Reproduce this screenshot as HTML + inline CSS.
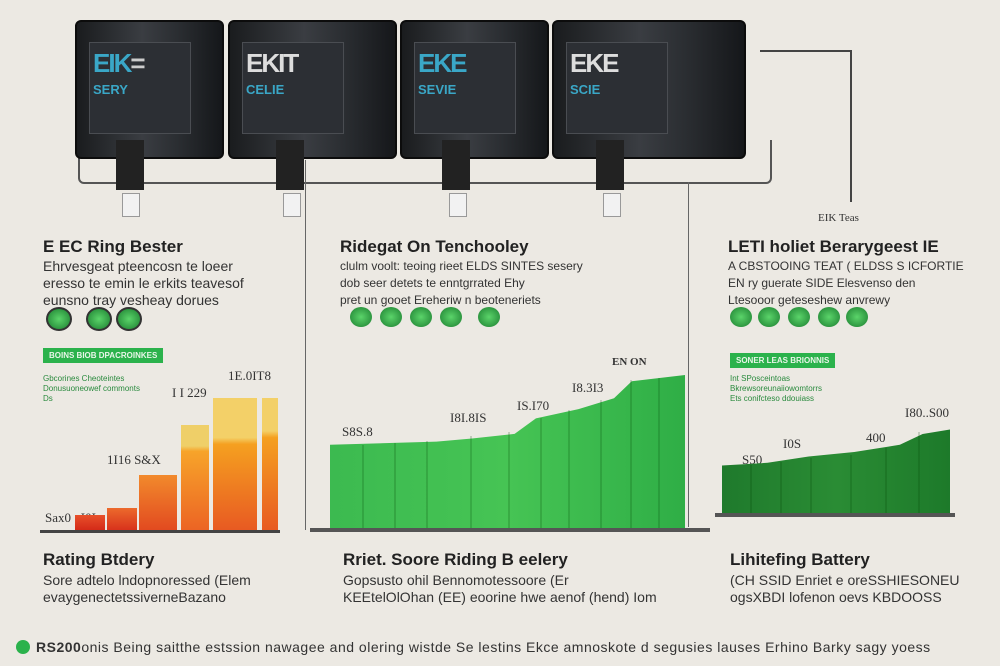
<!DOCTYPE html><html><head><style>
body{margin:0;width:1000px;height:666px;background:#ece9e3;position:relative;overflow:hidden;font-family:"Liberation Sans",sans-serif}
.a{position:absolute}
.bat{position:absolute;top:20px;height:135px;background:linear-gradient(90deg,#1a1c1e,#3a3d42 45%,#2a2d31 70%,#15171a);border-radius:6px;border:2px solid #0c0c0c}
.bat .lbl{position:absolute;left:12px;top:20px;width:100px;height:90px;background:#2c2f34;border:1px solid #4a4d52}
.bat .t{position:absolute;left:16px;top:26px;font:bold 26px "Liberation Sans";color:#3aa7c7;letter-spacing:-2px}
.bat .s{position:absolute;left:16px;top:60px;font:bold 13px "Liberation Sans";color:#3aa7c7}
.conn{position:absolute;width:28px;height:50px;background:#222;top:140px}
.plug{position:absolute;width:16px;height:22px;background:#f2f2f2;border:1px solid #999;top:193px}
h3{position:absolute;margin:0;font:bold 17px "Liberation Sans";color:#222}
.p{position:absolute;font:14px "Liberation Sans";color:#333;line-height:17px}
.g{position:absolute;background:#2bb24c;color:#e8f5e8;font:bold 8px "Liberation Sans";padding:3px 6px}
.sm{position:absolute;font:8px "Liberation Sans";color:#2a8a3e;line-height:10px}
.n{position:absolute;font:13px "Liberation Serif";color:#333}
.dot{position:absolute;width:22px;height:20px;border-radius:50%;background:radial-gradient(#5bd46a,#1b7d2f);border:2px solid #333}
.vl{position:absolute;width:1px;background:#666}
.sep{position:absolute;width:2px;background:rgba(0,60,0,0.18)}
</style></head><body>
<div class="a" style="left:78px;top:140px;width:690px;height:42px;border:2px solid #555;border-top:none;border-radius:0 0 6px 6px"></div>
<div class="vl" style="left:305px;top:160px;height:370px"></div>
<div class="vl" style="left:688px;top:182px;height:345px"></div>
<div class="a" style="left:760px;top:50px;width:90px;height:150px;border:2px solid #444;border-left:none;border-bottom:none"></div>
<div class="bat" style="left:75px;width:145px"><div class="lbl"></div><div class="t">EIK<span style="color:#ccc">=</span></div><div class="s">SERY</div></div>
<div class="bat" style="left:228px;width:165px"><div class="lbl"></div><div class="t" style="color:#ddd">EKIT</div><div class="s">CELIE</div></div>
<div class="bat" style="left:400px;width:145px"><div class="lbl"></div><div class="t">EKE</div><div class="s">SEVIE</div></div>
<div class="bat" style="left:552px;width:190px"><div class="lbl"></div><div class="t" style="color:#ddd">EKE</div><div class="s">SCIE</div></div>
<div class="conn" style="left:116px"></div><div class="plug" style="left:122px"></div>
<div class="conn" style="left:276px"></div><div class="plug" style="left:283px"></div>
<div class="conn" style="left:442px"></div><div class="plug" style="left:449px"></div>
<div class="conn" style="left:596px"></div><div class="plug" style="left:603px"></div>
<div class="n" style="left:818px;top:212px;font-size:11px">EIK Teas</div>
<h3 style="left:43px;top:237px">E EC Ring Bester</h3>
<div class="p" style="left:43px;top:258px">Ehrvesgeat pteencosn te loeer<br>eresso te emin le erkits teavesof<br>eunsno tray vesheay dorues</div>
<div class="dot" style="left:46px;top:307px"></div><div class="dot" style="left:86px;top:307px"></div><div class="dot" style="left:116px;top:307px"></div>
<div class="g" style="left:43px;top:348px">BOINS BIOB DPACROINKES</div>
<div class="sm" style="left:43px;top:374px">Gbcorines Cheoteintes<br>Donusuoneowef commonts<br>Ds</div>
<div class="n" style="left:228px;top:368px">1E.0IT8</div><div class="n" style="left:172px;top:385px">I I 229</div>
<div class="n" style="left:107px;top:452px">1I16 S&amp;X</div><div class="n" style="left:45px;top:510px">Sax0 . I0I</div>
<div class="a" style="left:75px;top:515px;width:30px;height:15px;background:linear-gradient(#e8502a,#d42a18)"></div>
<div class="a" style="left:107px;top:508px;width:30px;height:22px;background:linear-gradient(#ec6a2c,#d8321c)"></div>
<div class="a" style="left:139px;top:475px;width:38px;height:55px;background:linear-gradient(#f28a2c,#e24a20)"></div>
<div class="a" style="left:181px;top:425px;width:28px;height:105px;background:linear-gradient(#efcf68 20%,#f7a42a 25%,#ec6424)"></div>
<div class="a" style="left:213px;top:398px;width:44px;height:132px;background:linear-gradient(#f3d068 30%,#f5a020 35%,#e85a22)"></div>
<div class="a" style="left:262px;top:398px;width:16px;height:132px;background:linear-gradient(#f3d068 25%,#f5a020 30%,#e85a22)"></div>
<div class="a" style="left:40px;top:530px;width:240px;height:3px;background:#444"></div>
<h3 style="left:340px;top:237px">Ridegat On Tenchooley</h3>
<div class="p" style="left:340px;top:258px;font-size:12px">clulm voolt: teoing rieet ELDS SINTES sesery<br>dob seer detets te enntgrrated Ehy<br>pret un gooet Ereheriw n beoteneriets</div>
<div class="dot" style="left:350px;top:307px;border:none"></div><div class="dot" style="left:380px;top:307px;border:none"></div><div class="dot" style="left:410px;top:307px;border:none"></div><div class="dot" style="left:440px;top:307px;border:none"></div><div class="dot" style="left:478px;top:307px;border:none"></div>
<div class="n" style="left:612px;top:356px;font-size:11px;font-weight:bold">EN ON</div>
<div class="n" style="left:572px;top:380px">I8.3I3</div><div class="n" style="left:517px;top:398px">IS.I70</div><div class="n" style="left:450px;top:410px">I8I.8IS</div><div class="n" style="left:342px;top:424px">S8S.8</div>
<div class="a" style="left:330px;top:375px;width:355px;height:155px;background:linear-gradient(90deg,#3cba50,#46c454 50%,#2fae46);clip-path:polygon(0 45%,30% 43%,40% 41%,52% 38%,58% 28%,70% 22%,80% 15%,85% 4%,100% 0,100% 100%,0 100%)"></div>
<div class="sep" style="left:362px;top:445px;height:85px"></div><div class="sep" style="left:394px;top:443px;height:87px"></div><div class="sep" style="left:426px;top:441px;height:89px"></div><div class="sep" style="left:470px;top:436px;height:94px"></div><div class="sep" style="left:508px;top:432px;height:98px"></div><div class="sep" style="left:540px;top:418px;height:112px"></div><div class="sep" style="left:568px;top:410px;height:120px"></div><div class="sep" style="left:600px;top:400px;height:130px"></div><div class="sep" style="left:630px;top:380px;height:150px"></div><div class="sep" style="left:658px;top:378px;height:152px"></div>
<div class="a" style="left:310px;top:528px;width:400px;height:4px;background:#555"></div>
<h3 style="left:728px;top:237px">LETI holiet Berarygeest IE</h3>
<div class="p" style="left:728px;top:258px;font-size:12px">A CBSTOOING TEAT ( ELDSS S ICFORTIE<br>EN ry guerate SIDE Elesvenso den<br>Ltesooor geteseshew anvrewy</div>
<div class="dot" style="left:730px;top:307px;border:none"></div><div class="dot" style="left:758px;top:307px;border:none"></div><div class="dot" style="left:788px;top:307px;border:none"></div><div class="dot" style="left:818px;top:307px;border:none"></div><div class="dot" style="left:846px;top:307px;border:none"></div>
<div class="g" style="left:730px;top:353px">SONER LEAS BRIONNIS</div>
<div class="sm" style="left:730px;top:374px">Int SPosceintoas<br>Bkrewsoreunaiiowomtorrs<br>Ets conifcteso ddouiass</div>
<div class="n" style="left:905px;top:405px">I80..S00</div><div class="n" style="left:866px;top:430px">400</div><div class="n" style="left:783px;top:436px">I0S</div><div class="n" style="left:742px;top:452px">S50</div>
<div class="a" style="left:722px;top:425px;width:228px;height:90px;background:linear-gradient(90deg,#1f7a2c,#2a8c34 50%,#1d7a2a);clip-path:polygon(0 45%,20% 42%,38% 35%,58% 30%,78% 22%,88% 10%,100% 5%,100% 100%,0 100%)"></div>
<div class="sep" style="left:750px;top:465px;height:50px"></div><div class="sep" style="left:780px;top:462px;height:53px"></div><div class="sep" style="left:810px;top:458px;height:57px"></div><div class="sep" style="left:850px;top:455px;height:60px"></div><div class="sep" style="left:885px;top:448px;height:67px"></div><div class="sep" style="left:918px;top:432px;height:83px"></div>
<div class="a" style="left:715px;top:513px;width:240px;height:4px;background:#555"></div>
<h3 style="left:43px;top:550px">Rating Btdery</h3>
<div class="p" style="left:43px;top:572px">Sore adtelo lndopnoressed (Elem<br>evaygenectetssiverneBazano</div>
<h3 style="left:343px;top:550px">Rriet. Soore Riding B eelery</h3>
<div class="p" style="left:343px;top:572px">Gopsusto ohil Bennomotessoore (Er<br>KEEtelOlOhan (EE) eoorine hwe aenof (hend) Iom</div>
<h3 style="left:730px;top:550px">Lihitefing Battery</h3>
<div class="p" style="left:730px;top:572px">(CH SSID Enriet e oreSSHIESONEU<br>ogsXBDI lofenon oevs KBDOOSS</div>
<div class="a" style="left:16px;top:640px;width:14px;height:14px;border-radius:50%;background:#2bb24c"></div>
<div class="p" style="left:36px;top:639px;font-size:14px;white-space:nowrap;letter-spacing:0.5px"><b>RS200</b>onis Being saitthe estssion nawagee and olering wistde Se lestins Ekce amnoskote d segusies lauses Erhino Barky sagy yoess</div>
</body></html>
